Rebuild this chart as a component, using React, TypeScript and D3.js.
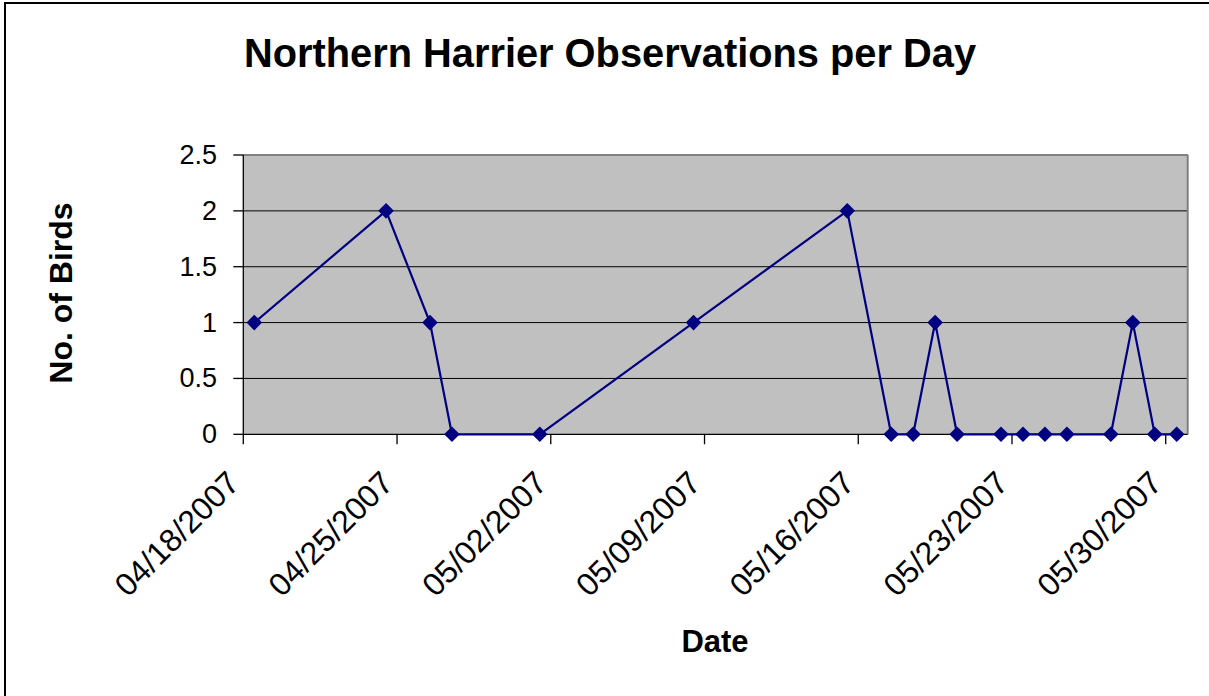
import React from "react";
import * as d3 from "d3";

const dates = [
  "2007-04-18", "2007-04-24", "2007-04-26", "2007-04-27", "2007-05-01",
  "2007-05-08", "2007-05-15", "2007-05-17", "2007-05-18", "2007-05-19",
  "2007-05-20", "2007-05-22", "2007-05-23", "2007-05-24", "2007-05-25",
  "2007-05-27", "2007-05-28", "2007-05-29", "2007-05-30",
];
const birds = [1, 2, 1, 0, 0, 1, 2, 0, 0, 1, 0, 0, 0, 0, 0, 0, 1, 0, 0];
const xTickLabels = [
  "04/18/2007", "04/25/2007", "05/02/2007", "05/09/2007",
  "05/16/2007", "05/23/2007", "05/30/2007",
];
const yTicks = [0, 0.5, 1, 1.5, 2, 2.5];

const W = 1209;
const H = 696;
const FONT = "'Liberation Sans', Arial, Helvetica, sans-serif";

const parse = (s: string) => {
  const [y, m, d] = s.split("-").map(Number);
  return new Date(Date.UTC(y, m - 1, d));
};
const parseLabel = (s: string) => {
  const [m, d, y] = s.split("/").map(Number);
  return new Date(Date.UTC(y, m - 1, d));
};

export default function App() {
  const left = 243.3;
  const right = 1187.7;
  const top = 155;
  const bottom = 434.3;
  const HALF_DAY = 12 * 3600 * 1000;

  const x = d3
    .scaleUtc()
    .domain([parse("2007-04-18"), parse("2007-05-31")])
    .range([left, right]);
  const y = d3.scaleLinear().domain([0, 2.5]).range([bottom, top]);

  const pts = dates.map((d, i) => ({
    x: x(new Date(parse(d).getTime() + HALF_DAY)),
    y: y(birds[i]),
  }));
  const line = d3
    .line<{ x: number; y: number }>()
    .x((p) => p.x)
    .y((p) => p.y);

  const diamond = (cx: number, cy: number, r: number) =>
    `M${cx},${cy - r}L${cx + r},${cy}L${cx},${cy + r}L${cx - r},${cy}Z`;

  return (
    <svg
      width={W}
      height={H}
      style={{ position: "absolute", left: 0, top: 0, background: "#fff" }}
      fontFamily={FONT}
    >
      <rect x={0} y={0} width={W} height={H} fill="#fff" />
      {/* chart area border */}
      <rect x={5} y={3} width={W + 20} height={H + 20} fill="none" stroke="#000" strokeWidth={2} />

      {/* title */}
      <text x={610} y={67.3} textAnchor="middle" fontSize={39.8} fontWeight="bold" fill="#000">
        Northern Harrier Observations per Day
      </text>

      {/* plot area */}
      <rect x={left} y={top} width={right - left} height={bottom - top} fill="#C0C0C0" />
      {yTicks.slice(1).map((t) => (
        <line key={"g" + t} x1={left} x2={right} y1={y(t)} y2={y(t)} stroke="#000" strokeWidth={1} />
      ))}
      {/* top/right border gray */}
      <line x1={left} x2={right} y1={top} y2={top} stroke="#808080" strokeWidth={2} />
      <line x1={right} x2={right} y1={top} y2={bottom} stroke="#808080" strokeWidth={2} />

      {/* y axis */}
      <line x1={left} x2={left} y1={top} y2={bottom} stroke="#000" strokeWidth={1.3} />
      {yTicks.map((t) => (
        <g key={"y" + t}>
          <line x1={left - 10} x2={left} y1={y(t)} y2={y(t)} stroke="#000" strokeWidth={1.3} />
          <text
            x={217}
            y={y(t)}
            textAnchor="end"
            dominantBaseline="central"
            fontSize={27}
            fill="#000"
          >
            {t}
          </text>
        </g>
      ))}

      {/* x axis */}
      <line x1={left} x2={right} y1={bottom} y2={bottom} stroke="#000" strokeWidth={1.3} />
      {xTickLabels.map((lbl) => {
        const tx = x(parseLabel(lbl));
        return (
          <g key={lbl}>
            <line x1={tx} x2={tx} y1={bottom} y2={bottom + 10} stroke="#000" strokeWidth={1.3} />
            <text
              transform={`translate(${tx - 2},${485}) rotate(-45)`}
              textAnchor="end"
              fontSize={32}
              fill="#000"
            >
              {lbl}
            </text>
          </g>
        );
      })}

      {/* series */}
      <path d={line(pts) || ""} fill="none" stroke="#000080" strokeWidth={2.2} />
      {pts.map((p, i) => (
        <path key={"m" + i} d={diamond(p.x, p.y, 7.8)} fill="#000080" />
      ))}

      {/* axis titles */}
      <text x={715} y={652} textAnchor="middle" fontSize={31} fontWeight="bold" fill="#000">
        Date
      </text>
      <text
        transform={`translate(71.5,293) rotate(-90)`}
        textAnchor="middle"
        fontSize={32}
        fontWeight="bold"
        fill="#000"
      >
        No. of Birds
      </text>
    </svg>
  );
}
